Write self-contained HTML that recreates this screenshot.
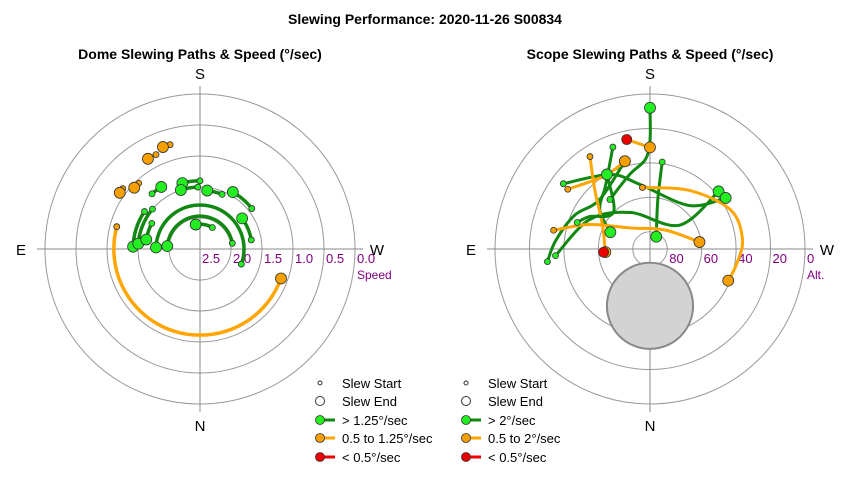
<!DOCTYPE html>
<html><head><meta charset="utf-8"><style>
body{margin:0;background:#fff}
svg{display:block;font-family:"Liberation Sans",Arial,sans-serif}
</style></head><body>
<svg id="chart" width="850" height="480" viewBox="0 0 850 480">
<rect width="850" height="480" fill="#fff"/>
<text x="425" y="24" text-anchor="middle" font-size="14" font-weight="bold">Slewing Performance: 2020-11-26 S00834</text>
<text x="200" y="59" text-anchor="middle" font-size="14" font-weight="bold">Dome Slewing Paths &amp; Speed (°/sec)</text>
<text x="650" y="59" text-anchor="middle" font-size="14" font-weight="bold">Scope Slewing Paths &amp; Speed (°/sec)</text>
<g id="dome"></g>
<g id="scope"></g>
<g id="legends"></g>
</svg>
<script>
// ---------- Data ----------
const domeRingValues = [2.0, 1.5, 1.0, 0.5, 0.0];
const domeTickLabels = ["2.5", "2.0", "1.5", "1.0", "0.5", "0.0"];
const domeTickValues = [2.5, 2.0, 1.5, 1.0, 0.5, 0.0];
// dome arcs: start azimuth, end azimuth (deg), speed (°/sec)
const domeArcStart = [-70, 210, 187, 165, 162, 148, 92, 92, 95, 100, 170, 95, 234, 125, 133, 150, 160];
const domeArcEnd   = [105, 232, 202, 180, 178, 139, 124, 290, 130, 118, 210, 260, 260, 128, 137, 155, 164];
const domeArcSpeed = [1.11, 1.44, 1.55, 1.40, 1.50, 1.32, 1.42, 1.79, 1.50, 1.62, 2.1, 1.97, 1.66, 0.92, 1.05, 0.82, 0.75];
const domeArcClass = ["o","g","g","g","g","g","g","g","g","g","g","g","g","o","o","o","o"];

const scopeRingValues = [80, 60, 40, 20, 0];
const scopeTickLabels = ["80", "60", "40", "20", "0"];
// scope paths: azimuth and altitude arrays
const scopeAz = [
  [141,165,177,180,180],
  [83,95,114,134,164],
  [86,116,152,231,230],
  [188,189,207],
  [127,152,171,222,236],
  [160,145,128,113],
  [168,180],
  [173,214,244,264,280,292],
  [101,112,136,218,262],
  [147,137,117,86],
  [126,148,164],
  [110,118,135,150]
];
const scopeAlt = [
  [53,45,38,27,8],
  [30,35,42,49,37],
  [35,51,66,68,38],
  [39,61,82],
  [27,41,52,56,37],
  [27,45,53,65],
  [25,31],
  [54,49,38,36,39,41],
  [33,52,73,76,61],
  [26,43,59,64],
  [31,40,37],
  [45,50,60,40]
];
const scopeClass = ["g","g","g","g","g","g","o","o","o","o","o","g"];
const scopeRed = [[168,25],[86,63]];
const moonAz = 0, moonAlt = 57, moonRadiusDeg = 25;

const COLORS = {g:{line:"#118811",dot:"#22ee22"}, o:{line:"#ffa500",dot:"#f5a000"}, r:{line:"#ee0000",dot:"#ee0000"}};
const NS = "http://www.w3.org/2000/svg";
function mk(tag, attrs, parent){const e=document.createElementNS(NS,tag);for(const k in attrs)e.setAttribute(k,attrs[k]);parent.appendChild(e);return e;}

// ---------- axis functions ----------
const R = 155;
function domeR(v){return (2.5 - v) * R / 2.5;}
function scopeR(alt){return (90 - alt) * R / 90;}
function pol(cx, cy, r, az){const a=az*Math.PI/180;return [cx - r*Math.sin(a), cy + r*Math.cos(a)];}

function drawFrame(g, cx, cy, rings, rfun, labels, labelVals, unitLabel){
  for(const v of rings){
    const c=mk("circle",{cx:cx,cy:cy,r:rfun(v),fill:"none",stroke:"#999","stroke-width":1},g);
    
    
  }
  const l1=mk("line",{x1:cx,y1:cy-R-8,x2:cx,y2:cy+R+8,stroke:"#888"},g);
  
  
  const l2=mk("line",{x1:cx-R-8,y1:cy,x2:cx+R+8,y2:cy,stroke:"#888"},g);
  
  
  const dirs=[["S",cx,cy-R-15],["N",cx,cy+R+27],["E",cx-R-24,cy+6],["W",cx+R+22,cy+6]];
  for(const d of dirs){
    const t=mk("text",{x:d[1],y:d[2],"text-anchor":"middle","font-size":15},g);t.textContent=d[0];
    
    
  }
  labels.forEach((s,i)=>{
    const t=mk("text",{x:cx+rfun(labelVals[i])+2,y:cy+14,"font-size":13,fill:"#800080"},g);t.textContent=s;
    
    
  });
  const u=mk("text",{x:cx+R+2,y:cy+30,"font-size":12,fill:"#800080"},g);u.textContent=unitLabel;
  
  
}

function smoothPath(pts){
  if(pts.length<2)return "";
  let d="M"+pts[0][0].toFixed(1)+","+pts[0][1].toFixed(1);
  for(let i=0;i<pts.length-1;i++){
    const p0=pts[i-1]||pts[i],p1=pts[i],p2=pts[i+1],p3=pts[i+2]||p2;
    const c1=[p1[0]+(p2[0]-p0[0])/6,p1[1]+(p2[1]-p0[1])/6];
    const c2=[p2[0]-(p3[0]-p1[0])/6,p2[1]-(p3[1]-p1[1])/6];
    d+=" C"+c1.join(",")+" "+c2.join(",")+" "+p2.join(",");
  }
  return d;
}

function drawDots(g, start, end, cls){
  const c=COLORS[cls];
  const s=mk("circle",{cx:start[0],cy:start[1],r:3,fill:c.dot,stroke:"#333","stroke-width":0.8},g);
  
  
  const e=mk("circle",{cx:end[0],cy:end[1],r:5.5,fill:c.dot,stroke:"#333","stroke-width":0.8},g);
  
  
}

// ---------- Dome ----------
(function(){
  const g=document.getElementById("dome"), cx=200, cy=249;
  drawFrame(g,cx,cy,domeRingValues,domeR,domeTickLabels,domeTickValues,"Speed");
  domeArcStart.forEach((a0,i)=>{
    const a1=domeArcEnd[i], r=domeR(domeArcSpeed[i]), n=40, pts=[];
    for(let k=0;k<=n;k++)pts.push(pol(cx,cy,r,a0+(a1-a0)*k/n));
    const cls=domeArcClass[i];
    const p=mk("polyline",{points:pts.map(p=>p.join(",")).join(" "),fill:"none",stroke:COLORS[cls].line,"stroke-width":3.5,"stroke-linecap":"round"},g);
    
    
    drawDots(g,pts[n],pts[0],cls);
  });
})();

// ---------- Scope ----------
(function(){
  const g=document.getElementById("scope"), cx=650, cy=249;
  drawFrame(g,cx,cy,scopeRingValues,scopeR,scopeTickLabels,scopeRingValues,"Alt.");
  const mc=pol(cx,cy,scopeR(moonAlt),moonAz);
  const m=mk("circle",{cx:mc[0],cy:mc[1],r:moonRadiusDeg*R/90,fill:"#d3d3d3",stroke:"#888","stroke-width":2},g);
  
  
  scopeAz.forEach((azs,i)=>{
    const pts=azs.map((a,k)=>pol(cx,cy,scopeR(scopeAlt[i][k]),a));
    const cls=scopeClass[i];
    const p=mk("path",{d:smoothPath(pts),fill:"none",stroke:COLORS[cls].line,"stroke-width":3,"stroke-linecap":"round"},g);
    
    
  });
  scopeAz.forEach((azs,i)=>{
    const pts=azs.map((a,k)=>pol(cx,cy,scopeR(scopeAlt[i][k]),a));
    drawDots(g,pts[0],pts[pts.length-1],scopeClass[i]);
  });
  scopeRed.forEach(v=>{
    const p=pol(cx,cy,scopeR(v[1]),v[0]);
    const c=mk("circle",{cx:p[0],cy:p[1],r:5,fill:"#ee0000",stroke:"#333","stroke-width":0.8},g);
    
    
  });
})();

// ---------- Legends ----------
(function(){
  const g=document.getElementById("legends");
  const sets=[[320,["Slew Start","Slew End","> 1.25°/sec","0.5 to 1.25°/sec","< 0.5°/sec"]],
              [466,["Slew Start","Slew End","> 2°/sec","0.5 to 2°/sec","< 0.5°/sec"]]];
  const ys=[383,401,420,438,457], cl=[null,null,"g","o","r"];
  sets.forEach(s=>{
    const x=s[0];
    s[1].forEach((lab,i)=>{
      const y=ys[i];
      if(i===0){const c=mk("circle",{cx:x,cy:y,r:2,fill:"none",stroke:"#333"},g);}
      else if(i===1){const c=mk("circle",{cx:x,cy:y,r:4.5,fill:"none",stroke:"#333"},g);}
      else{
        const l=mk("line",{x1:x,y1:y,x2:x+15,y2:y,stroke:COLORS[cl[i]].line,"stroke-width":3},g);
        
        
        const c=mk("circle",{cx:x,cy:y,r:4.5,fill:COLORS[cl[i]].dot,stroke:"#333","stroke-width":0.8},g);
        
        
      }
      const t=mk("text",{x:x+22,y:y+5,"font-size":13},g);t.textContent=lab;
      
      
    });
  });
})();
</script>
</body></html>
